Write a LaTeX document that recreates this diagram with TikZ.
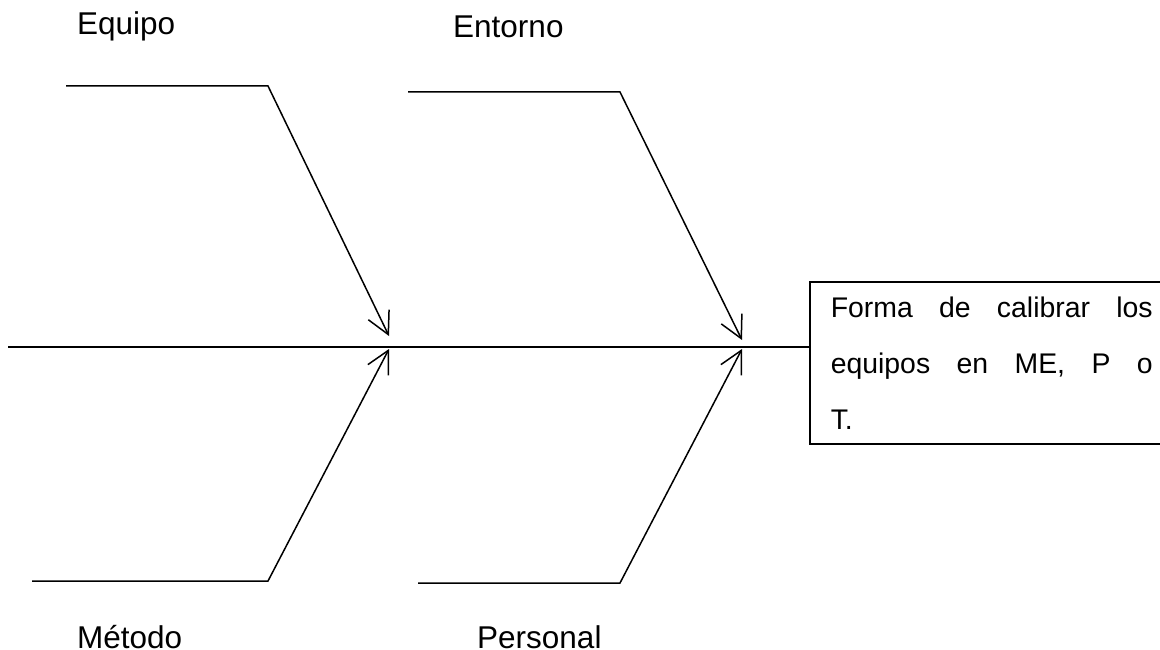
\documentclass[tikz,border=0pt]{standalone}
\usepackage{fontspec}
\setmainfont{Liberation Sans}
\usetikzlibrary{arrows.meta}
\begin{document}
\begin{tikzpicture}[x=1pt,y=-1pt,
  line/.style={line width=1.5pt, black},
  bone/.style={line, -{Straight Barb[length=22pt, width=23pt, line width=1.5pt]}},
  cause/.style={anchor=base west, inner sep=0pt, font=\fontsize{31.5}{38}\selectfont},
  effectbox/.style={draw, line width=1.5pt, anchor=north west, inner xsep=21pt, inner ysep=0pt,
    text width=322pt, minimum height=162pt, align=left,
    font=\fontsize{28.4}{56}\selectfont}]
  \useasboundingbox (0,0) rectangle (1160,650);
  \clip (0,0) rectangle (1160,650);

  % effect box (right side runs past the page edge)
  \node[effectbox] (effect) at (809,281)
    {Forma\hfill de\hfill calibrar\hfill los\\
     equipos\hfill en\hfill ME,\hfill P\hfill o\\
     T.};

  % spine
  \coordinate (tail) at (8,347);
  \draw[line] (tail) -- (effect.west |- tail);

  % cause labels
  \node[cause] (equipo)   at (77,35)  {Equipo};
  \node[cause] (entorno)  at (453,38) {Entorno};
  \node[cause] (metodo)   at (77,648) {Método};
  \node[cause] (personal) at (477,648) {Personal};

  % bone shapes
  \coordinate (e0) at (66,86);   \coordinate (e1) at (268,86);  \coordinate (e2) at (389,336);
  \coordinate (m0) at (32,581);  \coordinate (m1) at (268,581); \coordinate (m2) at (389,349);
  \coordinate (n0) at (408,92);  \coordinate (n1) at (620,92);  \coordinate (n2) at (742,340);
  \coordinate (p0) at (418,583); \coordinate (p1) at (620,583); \coordinate (p2) at (742,349);

  \draw[bone] (e0) -- (e1) -- (e2);
  \draw[bone] (m0) -- (m1) -- (m2);
  \draw[bone] (n0) -- (n1) -- (n2);
  \draw[bone] (p0) -- (p1) -- (p2);
\end{tikzpicture}
\end{document}
